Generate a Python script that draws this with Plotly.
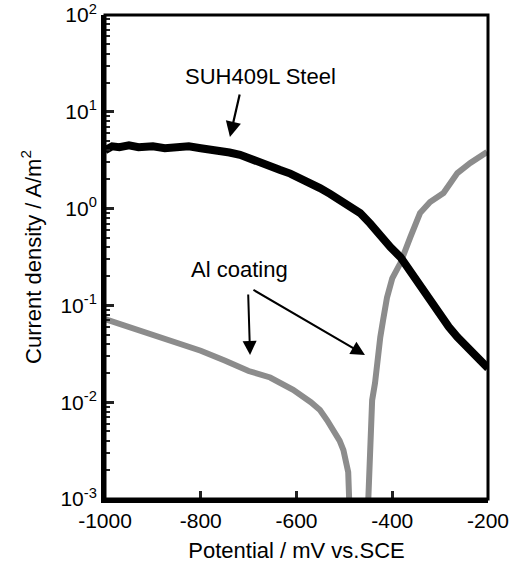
import plotly.graph_objects as go

# ---- data ----
steel_x = [-1000, -985, -970, -950, -930, -900, -875, -850, -825, -800, -780,
           -760, -740, -718, -700, -676, -655, -634, -613, -592, -572, -551,
           -530, -509, -488, -467, -446, -425, -404, -383, -362, -342, -321,
           -300, -282, -264, -247, -230, -215, -200]
steel_y = [4.0, 4.4, 4.3, 4.5, 4.3, 4.4, 4.2, 4.3, 4.4, 4.2, 4.1,
           3.9, 3.8, 3.6, 3.3, 3.0, 2.75, 2.5, 2.3, 2.07, 1.85, 1.63,
           1.42, 1.23, 1.05, 0.90, 0.70, 0.52, 0.40, 0.316, 0.22, 0.155, 0.108,
           0.076, 0.060, 0.047, 0.038, 0.031, 0.026, 0.0225]

al_cath_x = [-1000, -950, -900, -843, -800, -750, -700, -655, -607, -570,
             -551, -536, -523, -510, -502, -495, -492, -490]
al_cath_y = [0.072, 0.060, 0.050, 0.041, 0.034, 0.027, 0.021, 0.018, 0.0134, 0.010,
             0.0083, 0.0065, 0.0052, 0.0040, 0.0032, 0.0024, 0.0019, 0.001]

al_anod_x = [-450, -446, -442, -436, -429, -425, -419, -411, -400, -383,
             -362, -342, -321, -293, -264, -237, -202]
al_anod_y = [0.001, 0.0032, 0.0105, 0.0158, 0.041, 0.047, 0.071, 0.12, 0.19, 0.274,
             0.51, 0.90, 1.17, 1.45, 2.33, 2.96, 3.85]

x_ticks = [-1000, -800, -600, -400, -200]
x_tick_text = ["-1000", "-800", "-600", "-400", "-200"]
y_tick_vals = [1e-3, 1e-2, 1e-1, 1e0, 1e1, 1e2]
y_tick_text = ["10<sup>-3</sup>", "10<sup>-2</sup>", "10<sup>-1</sup>",
               "10<sup>0</sup>", "10<sup>1</sup>", "10<sup>2</sup>"]

FONT = "Liberation Sans, Arial, sans-serif"
TXT = "#000000"
TICK = "#222222"

fig = go.Figure()
fig.add_trace(go.Scatter(x=al_cath_x, y=al_cath_y, mode="lines",
                         line=dict(color="#8c8c8c", width=6), showlegend=False))
fig.add_trace(go.Scatter(x=al_anod_x, y=al_anod_y, mode="lines",
                         line=dict(color="#8c8c8c", width=6), showlegend=False))
fig.add_trace(go.Scatter(x=steel_x, y=steel_y, mode="lines",
                         line=dict(color="black", width=8), showlegend=False))

fig.update_layout(
    width=519, height=569,
    margin=dict(l=105, r=31, t=15, b=70),
    paper_bgcolor="white", plot_bgcolor="white",
    xaxis=dict(range=[-1000, -200], tickvals=x_ticks, ticktext=x_tick_text,
               ticks="inside", ticklen=8, tickwidth=3, tickcolor=TICK,
               showline=True, linewidth=4, linecolor="black",
               automargin=False, ticklabeloverflow="allow",
               tickfont=dict(family=FONT, size=21, color=TXT),
               title=dict(text="Potential / mV vs.SCE", standoff=12,
                          font=dict(family=FONT, size=22, color=TXT))),
    yaxis=dict(type="log", range=[-3, 2], tickvals=y_tick_vals, ticktext=y_tick_text,
               ticks="inside", ticklen=9, tickwidth=3, tickcolor=TICK,
               minor=dict(ticks="inside", ticklen=5, tickwidth=2, tickcolor=TICK,
                          dtick="D1"),
               showline=True, linewidth=4, linecolor="black",
               automargin=False, ticklabeloverflow="allow",
               tickfont=dict(family=FONT, size=21, color=TXT),
               title=dict(text="Current density / A/m<sup>2</sup>", standoff=14,
                          font=dict(family=FONT, size=22, color=TXT))),
    shapes=[dict(type="rect", xref="paper", yref="paper", x0=0, x1=1, y0=0, y1=1,
                 line=dict(color="black", width=3), fillcolor="rgba(0,0,0,0)",
                 layer="above")],
)

# annotations (y in log10 units for log axis)
fig.add_annotation(x=-676, y=1.36, text="SUH409L Steel", showarrow=False,
                   font=dict(family=FONT, size=22, color=TXT))
fig.add_annotation(x=-739, y=0.740, ax=-718, ay=1.194, axref="x", ayref="y",
                   text="", showarrow=True, arrowhead=2, arrowsize=1.4,
                   arrowwidth=2.2, arrowcolor="black", standoff=0)
fig.add_annotation(x=-720, y=-0.634, text="Al coating", showarrow=False,
                   font=dict(family=FONT, size=22, color=TXT))
fig.add_annotation(x=-697, y=-1.512, ax=-701, ay=-0.872, axref="x", ayref="y",
                   text="", showarrow=True, arrowhead=2, arrowsize=1.4,
                   arrowwidth=2, arrowcolor="black", standoff=0)
fig.add_annotation(x=-457, y=-1.512, ax=-693, ay=-0.831, axref="x", ayref="y",
                   text="", showarrow=True, arrowhead=2, arrowsize=1.4,
                   arrowwidth=2, arrowcolor="black", standoff=0)

fig.write_html("out.html", config={"displayModeBar": False},
               post_script="document.body.style.margin='0';")
